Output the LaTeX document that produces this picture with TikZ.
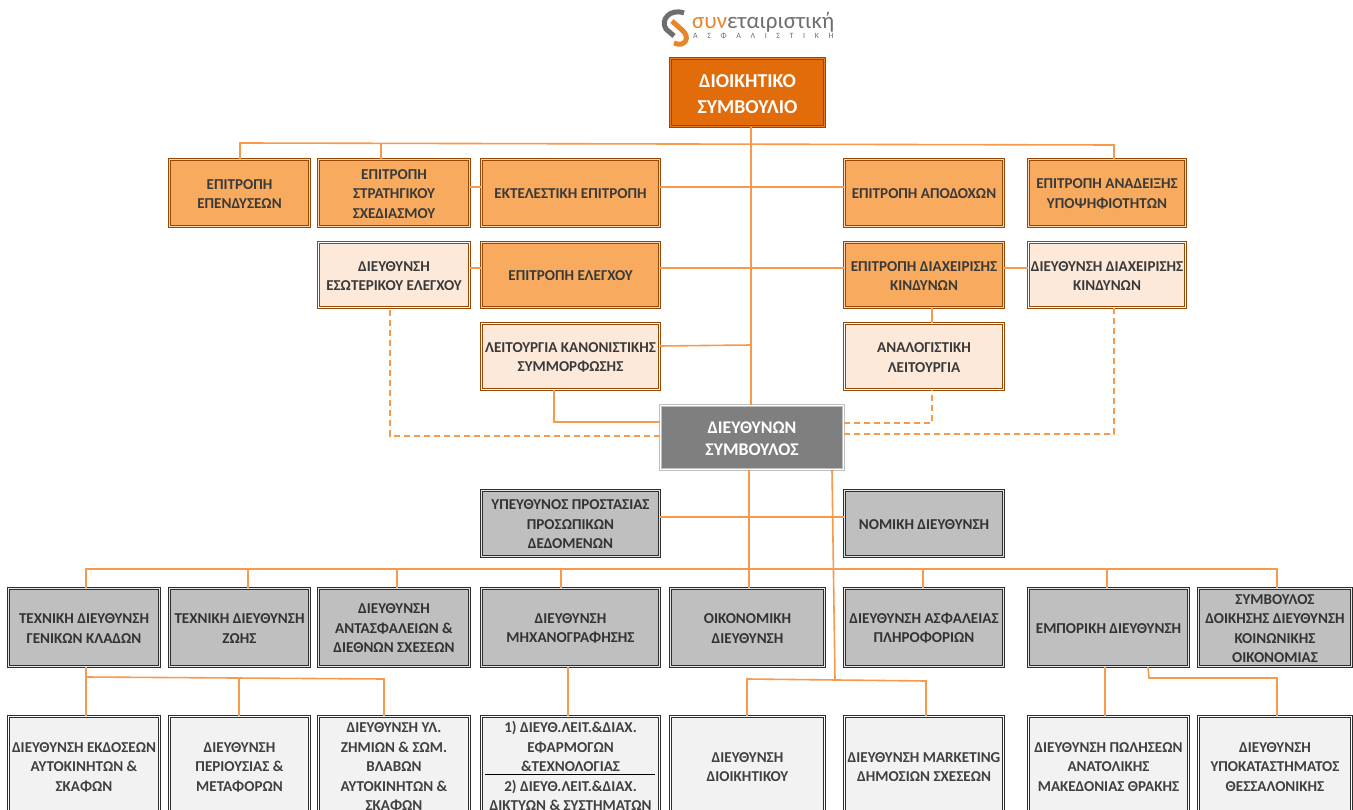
\documentclass[tikz,border=0pt]{standalone}
\usepackage{fontspec}
\setmainfont{Carlito}
\definecolor{brd}{HTML}{984806}
\definecolor{brdgap}{HTML}{FBD5B5}
\definecolor{boardfill}{HTML}{E36C0A}
\definecolor{comfill}{HTML}{F8AB5E}
\definecolor{lightfill}{HTML}{FDE9D9}
\definecolor{conn}{HTML}{F79A4C}
\definecolor{txt}{HTML}{3A3A3A}
\definecolor{darkbrd}{HTML}{2E2E2E}
\definecolor{greyfill}{HTML}{BFBFBF}
\definecolor{paperfill}{HTML}{F2F2F2}
\definecolor{ceofill}{HTML}{7F7F7F}
\definecolor{logogrey}{HTML}{6D6E70}
\definecolor{logoorange}{HTML}{E8842C}
\newfontfamily\logofont{Carlito}
\newfontfamily\logosub{Carlito}[LetterSpace=120]
\tikzset{
  basebox/.style={rectangle,align=center,inner sep=0pt,font=\bfseries\fontsize{15.1}{19.5}\selectfont,text=txt,line width=1pt,double distance=.9pt},
  boardbox/.style={basebox,draw=brd,double=brdgap!15!boardfill,fill=boardfill,text=white,font=\bfseries\fontsize{19.7}{26}\selectfont},
  combox/.style={basebox,draw=brd,double=brdgap,fill=comfill},
  lightbox/.style={basebox,draw=brd,double=white,fill=lightfill},
  ceobox/.style={basebox,draw=black!25,line width=.8pt,double=white,double distance=1.4pt,fill=ceofill,text=white,font=\bfseries\fontsize{17.8}{22.5}\selectfont},
  greybox/.style={basebox,draw=darkbrd,double=greyfill!40!white,fill=greyfill,text=black!80},
  paperbox/.style={basebox,draw=darkbrd,double=white,fill=paperfill,text=black!75},
  line/.style={draw=conn,line width=1.6pt,line join=miter},
  dline/.style={line,dash pattern=on 6.5pt off 3.5pt},
}
\newcommand\bx[7]{\node[#2,minimum width=#5pt-#3pt-2.9pt,minimum height=#6pt-#4pt-2.9pt] (#1) at ({(#3+#5)/2},{(#4+#6)/2}) {\rule{0pt}{.78em}#7};}
\begin{document}
\begin{tikzpicture}[x=1pt,y=-1pt]
\useasboundingbox (0,0) rectangle (1353,810);
\clip (0,0) rectangle (1353,810);
% logo
\draw[logogrey,line width=5pt] (684,13) .. controls (670,8) and (660,20) .. (666,29) -- (674,36);
\draw[logoorange,line width=5pt] (672,21) -- (682,30) .. controls (691,37) and (685,48) .. (674,43);
\node[anchor=west,inner sep=0pt,text=logogrey,font=\logofont\fontsize{23}{23}\selectfont] (logotext) at (692,22) {\textcolor{logoorange}{συν}εταιριστική};
\node[anchor=west,inner sep=0pt,text=logogrey,font=\logosub\fontsize{8}{8}\selectfont] (logosub) at (693,36) {ΑΣΦΑΛΙΣΤΙΚΗ};
% boxes
\bx{board}{boardbox}{669}{57}{826}{128}{ΔΙΟΙΚΗΤΙΚΟ\\ΣΥΜΒΟΥΛΙΟ}
\bx{c1}{combox}{168}{158}{311}{228}{ΕΠΙΤΡΟΠΗ\\ΕΠΕΝΔΥΣΕΩΝ}
\bx{c2}{combox}{317}{158}{471}{228}{ΕΠΙΤΡΟΠΗ\\ΣΤΡΑΤΗΓΙΚΟΥ\\ΣΧΕΔΙΑΣΜΟΥ}
\bx{c3}{combox}{480}{158}{661}{228}{ΕΚΤΕΛΕΣΤΙΚΗ ΕΠΙΤΡΟΠΗ}
\bx{c4}{combox}{843}{158}{1005}{228}{ΕΠΙΤΡΟΠΗ ΑΠΟΔΟΧΩΝ}
\bx{c5}{combox}{1027}{158}{1187}{228}{ΕΠΙΤΡΟΠΗ ΑΝΑΔΕΙΞΗΣ\\ΥΠΟΨΗΦΙΟΤΗΤΩΝ}
\bx{audit}{lightbox}{317}{241}{471}{309}{ΔΙΕΥΘΥΝΣΗ\\ΕΣΩΤΕΡΙΚΟΥ ΕΛΕΓΧΟΥ}
\bx{acom}{combox}{480}{241}{661}{309}{ΕΠΙΤΡΟΠΗ ΕΛΕΓΧΟΥ}
\bx{risk}{combox}{843}{241}{1005}{309}{ΕΠΙΤΡΟΠΗ ΔΙΑΧΕΙΡΙΣΗΣ\\ΚΙΝΔΥΝΩΝ}
\bx{rdir}{lightbox}{1027}{241}{1187}{309}{ΔΙΕΥΘΥΝΣΗ ΔΙΑΧΕΙΡΙΣΗΣ\\ΚΙΝΔΥΝΩΝ}
\bx{comp}{lightbox}{480}{322}{661}{391}{ΛΕΙΤΟΥΡΓΙΑ ΚΑΝΟΝΙΣΤΙΚΗΣ\\ΣΥΜΜΟΡΦΩΣΗΣ}
\bx{act}{lightbox}{843}{322}{1005}{391}{ΑΝΑΛΟΓΙΣΤΙΚΗ\\ΛΕΙΤΟΥΡΓΙΑ}
\bx{ceo}{ceobox}{659}{404}{845}{471}{ΔΙΕΥΘΥΝΩΝ\\ΣΥΜΒΟΥΛΟΣ}
\bx{dpo}{greybox}{480}{489}{661}{558}{ΥΠΕΥΘΥΝΟΣ ΠΡΟΣΤΑΣΙΑΣ\\ΠΡΟΣΩΠΙΚΩΝ\\ΔΕΔΟΜΕΝΩΝ}
\bx{legal}{greybox}{843}{489}{1005}{558}{ΝΟΜΙΚΗ ΔΙΕΥΘΥΝΣΗ}
\bx{d1}{greybox}{7}{587}{161}{668}{ΤΕΧΝΙΚΗ ΔΙΕΥΘΥΝΣΗ\\ΓΕΝΙΚΩΝ ΚΛΑΔΩΝ}
\bx{d2}{greybox}{168}{587}{311}{668}{ΤΕΧΝΙΚΗ ΔΙΕΥΘΥΝΣΗ\\ΖΩΗΣ}
\bx{d3}{greybox}{317}{587}{471}{668}{ΔΙΕΥΘΥΝΣΗ\\ΑΝΤΑΣΦΑΛΕΙΩΝ \&\\ΔΙΕΘΝΩΝ ΣΧΕΣΕΩΝ}
\bx{d4}{greybox}{480}{587}{661}{668}{ΔΙΕΥΘΥΝΣΗ\\ΜΗΧΑΝΟΓΡΑΦΗΣΗΣ}
\bx{d5}{greybox}{669}{587}{826}{668}{ΟΙΚΟΝΟΜΙΚΗ\\ΔΙΕΥΘΥΝΣΗ}
\bx{d6}{greybox}{843}{587}{1005}{668}{ΔΙΕΥΘΥΝΣΗ ΑΣΦΑΛΕΙΑΣ\\ΠΛΗΡΟΦΟΡΙΩΝ}
\bx{d7}{greybox}{1027}{587}{1190}{668}{ΕΜΠΟΡΙΚΗ ΔΙΕΥΘΥΝΣΗ}
\bx{d8}{greybox}{1197}{587}{1353}{668}{ΣΥΜΒΟΥΛΟΣ\\ΔΟΙΚΗΣΗΣ ΔΙΕΥΘΥΝΣΗ\\ΚΟΙΝΩΝΙΚΗΣ\\ΟΙΚΟΝΟΜΙΑΣ}
\bx{b1}{paperbox}{7}{715}{161}{817}{ΔΙΕΥΘΥΝΣΗ ΕΚΔΟΣΕΩΝ\\ΑΥΤΟΚΙΝΗΤΩΝ \&\\ΣΚΑΦΩΝ}
\bx{b2}{paperbox}{168}{715}{311}{817}{ΔΙΕΥΘΥΝΣΗ\\ΠΕΡΙΟΥΣΙΑΣ \&\\ΜΕΤΑΦΟΡΩΝ}
\bx{b3}{paperbox}{317}{715}{471}{817}{ΔΙΕΥΘΥΝΣΗ ΥΛ.\\ΖΗΜΙΩΝ \& ΣΩΜ.\\ΒΛΑΒΩΝ\\ΑΥΤΟΚΙΝΗΤΩΝ \&\\ΣΚΑΦΩΝ}
\bx{b4}{paperbox}{480}{715}{661}{817}{1) ΔΙΕΥΘ.ΛΕΙΤ.\&ΔΙΑΧ.\\ΕΦΑΡΜΟΓΩΝ\\\&ΤΕΧΝΟΛΟΓΙΑΣ\\2) ΔΙΕΥΘ.ΛΕΙΤ.\&ΔΙΑΧ.\\ΔΙΚΤΥΩΝ \& ΣΥΣΤΗΜΑΤΩΝ}
\bx{b5}{paperbox}{669}{715}{826}{817}{ΔΙΕΥΘΥΝΣΗ\\ΔΙΟΙΚΗΤΙΚΟΥ}
\bx{b6}{paperbox}{843}{715}{1005}{817}{ΔΙΕΥΘΥΝΣΗ MARKETING\\ΔΗΜΟΣΙΩΝ ΣΧΕΣΕΩΝ}
\bx{b7}{paperbox}{1027}{715}{1190}{817}{ΔΙΕΥΘΥΝΣΗ ΠΩΛΗΣΕΩΝ\\ΑΝΑΤΟΛΙΚΗΣ\\ΜΑΚΕΔΟΝΙΑΣ ΘΡΑΚΗΣ}
\bx{b8}{paperbox}{1197}{715}{1353}{817}{ΔΙΕΥΘΥΝΣΗ\\ΥΠΟΚΑΤΑΣΤΗΜΑΤΟΣ\\ΘΕΣΣΑΛΟΝΙΚΗΣ}
% divider inside b4
\draw[black,line width=1pt] ([xshift=-85.5pt,yshift=-8pt]b4.center) -- ([xshift=84.5pt,yshift=-8pt]b4.center);
% named junctions
\coordinate (topL) at (240,143);
\coordinate (topR) at (1114,145);
\coordinate (compj) at (751,345);
\coordinate (busL) at (86,569);
\coordinate (busR) at (1277,569);
\coordinate (brA) at (86,677);
\coordinate (brB) at (384,679);
\coordinate (brC) at (747,679);
\coordinate (brD) at (926,681);
\coordinate (brJ) at (835,680);
\coordinate (brE) at (1149,678);
\coordinate (brF) at (1277,678);
% board and committees
\draw[line] ([xshift=3.5pt]board.south) -- ([xshift=-1pt]ceo.north);
\draw[line] ([xshift=.5pt]c1.north) -- (topL) -- (topR) -- ([xshift=7pt]c5.north);
\draw[line] ([xshift=-13pt]c2.north) -- ++(0,-14.5);
\draw[line] ([yshift=6pt]c2.east) -- ([yshift=6pt]c3.west);
\draw[line] ([yshift=6pt]c3.east) -- ([yshift=6pt]c4.west);
\draw[line] ([yshift=7pt]audit.east) -- ([yshift=7pt]acom.west);
\draw[line] ([yshift=7pt]acom.east) -- ([yshift=7pt]risk.west);
\draw[line] ([yshift=7pt]risk.east) -- ([yshift=7pt]rdir.west);
\draw[line] ([xshift=8pt]risk.south) -- ([xshift=8pt]act.north);
\draw[line] ([yshift=10.5pt]comp.east) -- (compj);
\draw[line] ([xshift=-16.5pt]comp.south) |- ([yshift=15.5pt]ceo.west);
\draw[dline] ([yshift=1.5pt]ceo.west) -| ([xshift=-4pt]audit.south);
\draw[dline] ([yshift=14.5pt]ceo.east) -| ([xshift=8pt]act.south);
\draw[dline] ([yshift=3.5pt]ceo.east) -| ([xshift=7pt]rdir.south);
% below CEO
\draw[line] ([xshift=-3pt]ceo.south) -- ([xshift=1.5pt]d5.north);
\draw[line] ([xshift=80pt]ceo.south) -- (brJ);
\draw[line] ([yshift=6.5pt]dpo.east) -- ([yshift=6.5pt]legal.west);
\draw[line] ([xshift=2pt]d1.north) |- (busR) -- ([xshift=2pt]d8.north);
\draw[line] ([xshift=8.5pt]d2.north) -- ([xshift=8.5pt]d2.north |- busL);
\draw[line] ([xshift=3pt]d3.north) -- ([xshift=3pt]d3.north |- busL);
\draw[line] ([xshift=-9.5pt]d4.north) -- ([xshift=-9.5pt]d4.north |- busL);
\draw[line] ([xshift=-1pt]d6.north) -- ([xshift=-1pt]d6.north |- busL);
\draw[line] ([xshift=-1.5pt]d7.north) -- ([xshift=-1.5pt]d7.north |- busL);
% third level
\draw[line] ([xshift=2pt]d1.south) -- ([xshift=2pt]b1.north);
\draw[line] (brA) -- (brB) -- ([xshift=-10pt]b3.north);
\draw[line] ([xshift=-.5pt]b2.north) -- ([xshift=-.5pt]b2.north |- brA);
\draw[line] ([xshift=-2.5pt]d4.south) -- ([xshift=-2.5pt]b4.north);
\draw[line] ([xshift=-.5pt]b5.north) -- (brC) -- (brD) -- ([xshift=2pt]b6.north);
\draw[line] ([xshift=-3.5pt]d7.south) -- ([xshift=-3.5pt]b7.north);
\draw[line] ([xshift=39.5pt]d7.south) -- (brE) -- (brF) -- ([xshift=2pt]b8.north);
\end{tikzpicture}
\end{document}
